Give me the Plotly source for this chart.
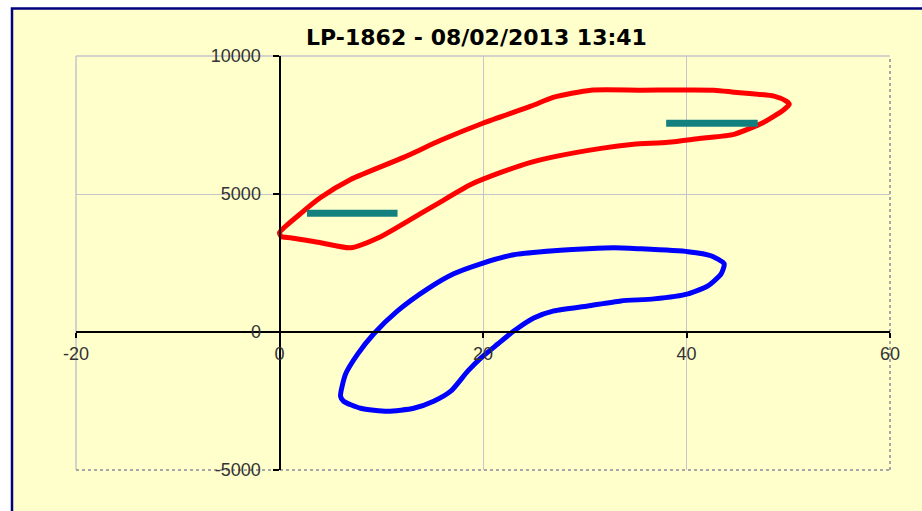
import plotly.graph_objects as go

# ---- data ----
title_text = "LP-1862 - 08/02/2013 13:41"

x_ticks = [-20, 0, 20, 40, 60]
x_tick_labels = ["-20", "0", "20", "40", "60"]
y_ticks = [-5000, 0, 5000, 10000]
y_tick_labels = ["-5000", "0", "5000", "10000"]

red_x = [0.0, 2.07, 4.04, 6.99, 12.2, 15.84, 19.98, 24.7, 26.97, 30.6, 35.52, 42.7,
         44.67, 48.6, 49.8, 50.1, 49.5, 47.6, 44.67, 41.4, 38.2, 34.8, 31.6, 26.7,
         24.7, 21.75, 18.8, 15.55, 12.2, 9.94, 6.99, 4.04, 1.08, 0.2, 0.0]
red_y = [3600, 4290, 4872, 5527, 6327, 6945, 7563, 8181, 8508, 8763, 8763, 8763,
         8690, 8545, 8363, 8254, 8036, 7600, 7163, 7018, 6872, 6800, 6654, 6327,
         6145, 5781, 5345, 4654, 3927, 3454, 3054, 3236, 3418, 3454, 3600]

blue_x = [6.0, 6.49, 7.68, 9.25, 11.6, 14.56, 17.12, 19.78, 23.03, 26.96, 30.3, 32.87,
          35.23, 40.15, 42.4, 43.7, 43.4, 42.1, 40.15, 36.8, 33.55, 30.3, 26.96, 24.99,
          23.03, 21.45, 19.78, 18.5, 16.83, 15.15, 13.19, 10.63, 7.97, 6.3, 6.0]
blue_y = [-2327, -1527, -800, -73, 764, 1563, 2109, 2472, 2800, 2945, 3018, 3054,
          3018, 2909, 2763, 2472, 2109, 1673, 1382, 1200, 1127, 945, 764, 509,
          36, -436, -945, -1418, -2145, -2509, -2763, -2872, -2763, -2509, -2327]

teal1_x = [2.7, 11.6]
teal1_y = [4300, 4300]
teal2_x = [38.0, 47.0]
teal2_y = [7560, 7560]

x_range = [-20, 60]
y_range = [-5000, 10000]

# ---- figure ----
fig = go.Figure()

fig.add_trace(go.Scatter(x=red_x, y=red_y, mode="lines",
                         line=dict(color="#FF0000", width=5, shape="spline", smoothing=0.6),
                         hoverinfo="skip"))
fig.add_trace(go.Scatter(x=blue_x, y=blue_y, mode="lines",
                         line=dict(color="#0000FF", width=5, shape="spline", smoothing=0.6),
                         hoverinfo="skip"))
for tx, ty in [(teal1_x, teal1_y), (teal2_x, teal2_y)]:
    fig.add_trace(go.Scatter(x=tx, y=ty, mode="lines",
                             line=dict(color="#138080", width=7),
                             hoverinfo="skip"))

# axes cross at zero: position of free axes in paper coords
x_axis_pos = (0 - y_range[0]) / (y_range[1] - y_range[0])
y_axis_pos = (0 - x_range[0]) / (x_range[1] - x_range[0])

tick_font = dict(family="Liberation Sans, Arial, sans-serif", size=18, color="#333333")
grid_color = "#C4C4CC"

fig.update_xaxes(range=x_range, tickvals=x_ticks, ticktext=x_tick_labels,
                 anchor="free", position=x_axis_pos,
                 showline=True, linecolor="black", linewidth=2,
                 ticks="outside", ticklen=5, tickwidth=2, tickcolor="black",
                 ticklabelstandoff=0,
                 showgrid=True, gridcolor=grid_color, gridwidth=1,
                 zeroline=False, tickfont=tick_font, fixedrange=True)
fig.update_yaxes(range=y_range, tickvals=y_ticks, ticktext=y_tick_labels,
                 anchor="free", position=y_axis_pos,
                 showline=True, linecolor="black", linewidth=2,
                 ticks="outside", ticklen=6, tickwidth=2, tickcolor="black",
                 ticklabelstandoff=8,
                 showgrid=True, gridcolor=grid_color, gridwidth=1,
                 zeroline=False, tickfont=tick_font, fixedrange=True)

W, H = 922, 511
ml, mr, mt, mb = 76, 32, 56, 41
pw, ph = W - ml - mr, H - mt - mb

def px2paper_x(px):
    return (px - ml) / pw

def px2paper_y(py):
    return (H - mb - py) / ph

shapes = [
    # chart area (light yellow with navy border, only top & left visible)
    dict(type="rect", xref="paper", yref="paper",
         x0=px2paper_x(12), x1=px2paper_x(960), y0=px2paper_y(560), y1=px2paper_y(8.5),
         fillcolor="#FFFFCC", line=dict(color="#000080", width=2.5), layer="below"),
    # plot area frame: solid grey top/left, dotted grey right/bottom
    dict(type="line", xref="paper", yref="paper", x0=0, x1=1, y0=1, y1=1,
         line=dict(color=grid_color, width=1.5), layer="below"),
    dict(type="line", xref="paper", yref="paper", x0=0, x1=0, y0=0, y1=1,
         line=dict(color=grid_color, width=1.5), layer="below"),
    dict(type="line", xref="paper", yref="paper", x0=1, x1=1, y0=0, y1=1,
         line=dict(color="#A8A8A8", width=2, dash="dot"), layer="below"),
    dict(type="line", xref="paper", yref="paper", x0=0, x1=1, y0=0, y1=0,
         line=dict(color="#A8A8A8", width=2, dash="dot"), layer="below"),
]

fig.update_layout(
    width=W, height=H,
    margin=dict(l=ml, r=mr, t=mt, b=mb, pad=0),
    paper_bgcolor="white",
    plot_bgcolor="rgba(0,0,0,0)",
    showlegend=False,
    shapes=shapes,
    title=dict(text="<b>" + title_text + "</b>", x=476.5 / W, xanchor="center",
               y=1 - 37 / H, yanchor="middle",
               font=dict(family="DejaVu Sans, Verdana, sans-serif", size=22, color="black")),
)

fig.write_html("out.html",
               config={"displayModeBar": False, "staticPlot": True},
               post_script="document.body.style.margin='0';document.body.style.overflow='hidden';")
